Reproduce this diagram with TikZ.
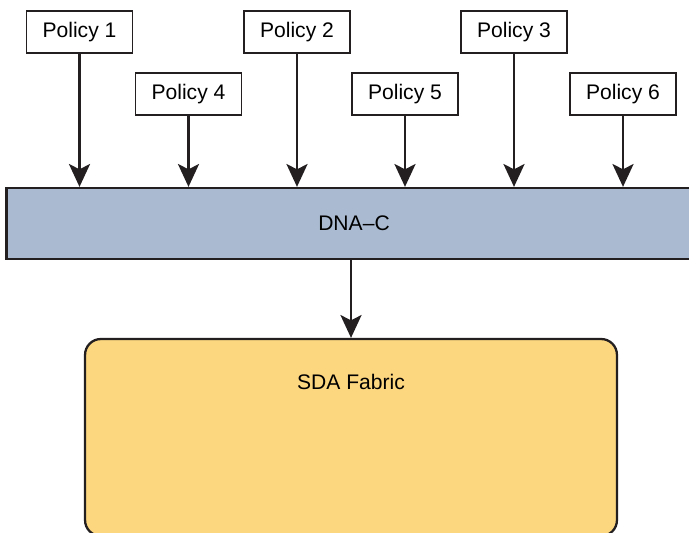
\documentclass[tikz,border=0pt]{standalone}
\usepackage{fontspec}
\setmainfont{Liberation Sans}
\usetikzlibrary{arrows.meta, positioning}
\definecolor{dnacBlue}{RGB}{170,186,208}
\definecolor{sdaAmber}{RGB}{253,214,128}
\definecolor{edgeDark}{RGB}{35,31,32}
\tikzset{
  policyN/.style={rectangle, draw=edgeDark, fill=white, line width=1.1pt,
    minimum width=2.12cm, minimum height=0.84cm, inner sep=0pt,
    font=\fontsize{12}{14}\selectfont},
  dnacN/.style={rectangle, draw=edgeDark, fill=dnacBlue, line width=1.3pt,
    minimum width=13.9cm, minimum height=1.42cm, inner sep=0pt,
    font=\fontsize{12}{14}\selectfont},
  fabricN/.style={rectangle, rounded corners=9pt, draw=edgeDark, fill=sdaAmber,
    line width=1.3pt, minimum width=10.64cm, minimum height=3.94cm, inner sep=0pt},
  flabel/.style={font=\fontsize{12}{14}\selectfont, inner sep=0pt},
  arr/.style={-{Stealth[length=13pt,width=12pt,inset=3pt]}, line width=1.2pt,
    color=edgeDark},
}
\begin{document}
\begin{tikzpicture}[x=0.02cm, y=-0.02cm]
\clip (0,0) rectangle (689,533);
\useasboundingbox (0,0) rectangle (689,533);

% policies, two staggered rows
\node[policyN] (pol1) at (79.5,32) {Policy 1};
\node[policyN] (pol4) at (188.5,94) {Policy 4};
\node[policyN] (pol2) at (297,32) {Policy 2};
\node[policyN] (pol5) at (405,94) {Policy 5};
\node[policyN] (pol3) at (514,32) {Policy 3};
\node[policyN] (pol6) at (623,94) {Policy 6};

\node[dnacN] (dnac) at (354,223.5) {DNA--C};

\node[fabricN] (fabric) at (351,437.5) {};
\node[flabel, below=0.72cm of fabric.north] (fabricL) {SDA Fabric};

\draw[arr] (pol1.south) -- (pol1.south |- dnac.north);
\draw[arr] (pol4.south) -- (pol4.south |- dnac.north);
\draw[arr] (pol2.south) -- (pol2.south |- dnac.north);
\draw[arr] (pol5.south) -- (pol5.south |- dnac.north);
\draw[arr] (pol3.south) -- (pol3.south |- dnac.north);
\draw[arr] (pol6.south) -- (pol6.south |- dnac.north);

\draw[arr] (dnac.south -| fabric.north) -- (fabric.north);

\end{tikzpicture}
\end{document}
